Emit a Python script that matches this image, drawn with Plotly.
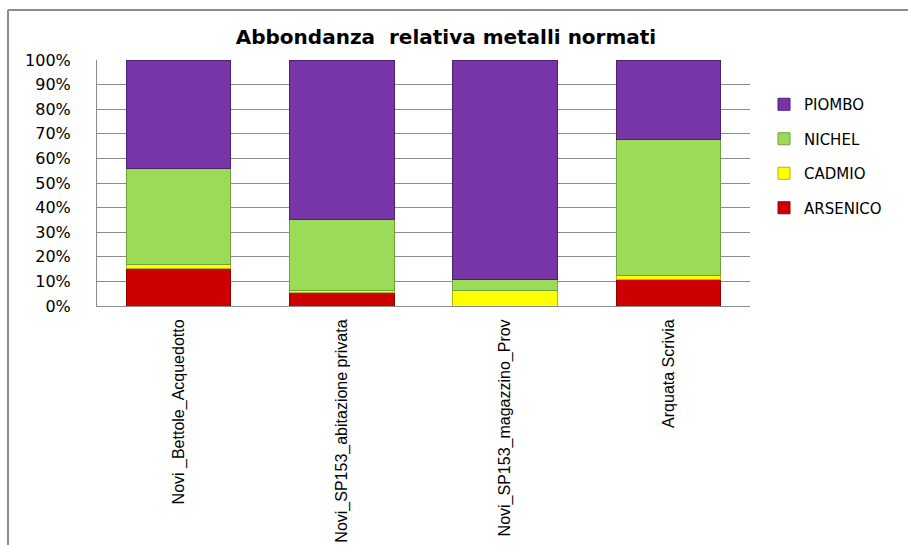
import plotly.graph_objects as go

# Sampling sites
sites = [
    "Novi _Bettole_Acquedotto",
    "Novi_SP153_abitazione privata",
    "Novi_SP153_magazzino_Prov",
    "Arquata Scrivia",
]

# Relative abundance of each regulated metal (% of total per site)
arsenico = [15.3, 5.4, 0.0, 10.6]
cadmio = [1.7, 0.8, 6.2, 1.7]
nichel = [39.0, 29.0, 4.6, 55.2]
piombo = [44.0, 64.8, 89.2, 32.5]

y_ticks = [0, 10, 20, 30, 40, 50, 60, 70, 80, 90, 100]
y_tick_labels = [f"{v}%" for v in y_ticks]

series = [
    ("ARSENICO", arsenico, "#cc0000", "#8f0000"),
    ("CADMIO", cadmio, "#ffff00", "#b5b800"),
    ("NICHEL", nichel, "#9bdb58", "#6fa23a"),
    ("PIOMBO", piombo, "#7835a8", "#4f1f74"),
]

fig = go.Figure()
for i, (name, vals, col, edge) in enumerate(series):
    fig.add_trace(go.Bar(
        x=sites, y=vals, name=name,
        legendgroup=name,
        legendrank=len(series) - i,
        marker=dict(color=col, line=dict(color=edge, width=1)),
        hoverinfo="name+y",
    ))

W, H = 908, 545
L, R, T, B = 97, 158, 60, 239
pw, ph = W - L - R, H - T - B


def px_x(x):
    return (x - L) / pw


def px_y(y):
    return (H - B - y) / ph


fig.update_layout(
    width=W, height=H,
    margin=dict(l=L, r=R, t=T, b=B, autoexpand=False),
    barmode="stack",
    bargap=0.36,
    paper_bgcolor="white",
    plot_bgcolor="white",
    font=dict(family="DejaVu Sans", color="black"),
    title=dict(
        text="<b>Abbondanza  relativa metalli normati</b>",
        xref="container", x=446 / W, xanchor="center",
        yref="container", y=1 - 37 / H, yanchor="middle",
        font=dict(family="DejaVu Sans", size=20, color="black"),
    ),
    legend=dict(
        x=px_x(764), xanchor="left",
        y=px_y(88), yanchor="top",
        traceorder="grouped",
        tracegroupgap=12,
        itemwidth=30,
        font=dict(family="DejaVu Sans", size=15, color="black"),
        bgcolor="rgba(0,0,0,0)",
    ),
    xaxis=dict(
        tickangle=-90,
        tickfont=dict(family="Liberation Sans", size=16, color="black"),
        showline=True, linecolor="#8c8c8c", linewidth=1,
        showgrid=False,
        automargin=False,
        ticks="", ticklabelstandoff=6,
    ),
    yaxis=dict(
        range=[0, 100],
        tickvals=y_ticks, ticktext=y_tick_labels,
        tickfont=dict(family="DejaVu Sans", size=16, color="black"),
        showline=True, linecolor="#8c8c8c", linewidth=1,
        showgrid=True, gridcolor="#8c8c8c", gridwidth=1,
        zeroline=False,
        automargin=False,
        ticks="", ticklabelstandoff=22,
    ),
    shapes=[
        dict(type="line", xref="paper", yref="paper",
             x0=px_x(8), x1=px_x(W + 5), y0=px_y(10), y1=px_y(10),
             line=dict(color="#8c8c8c", width=2)),
        dict(type="line", xref="paper", yref="paper",
             x0=px_x(8), x1=px_x(8), y0=px_y(10), y1=px_y(H + 5),
             line=dict(color="#8c8c8c", width=2)),
    ],
)

fig.write_html("out.html")
